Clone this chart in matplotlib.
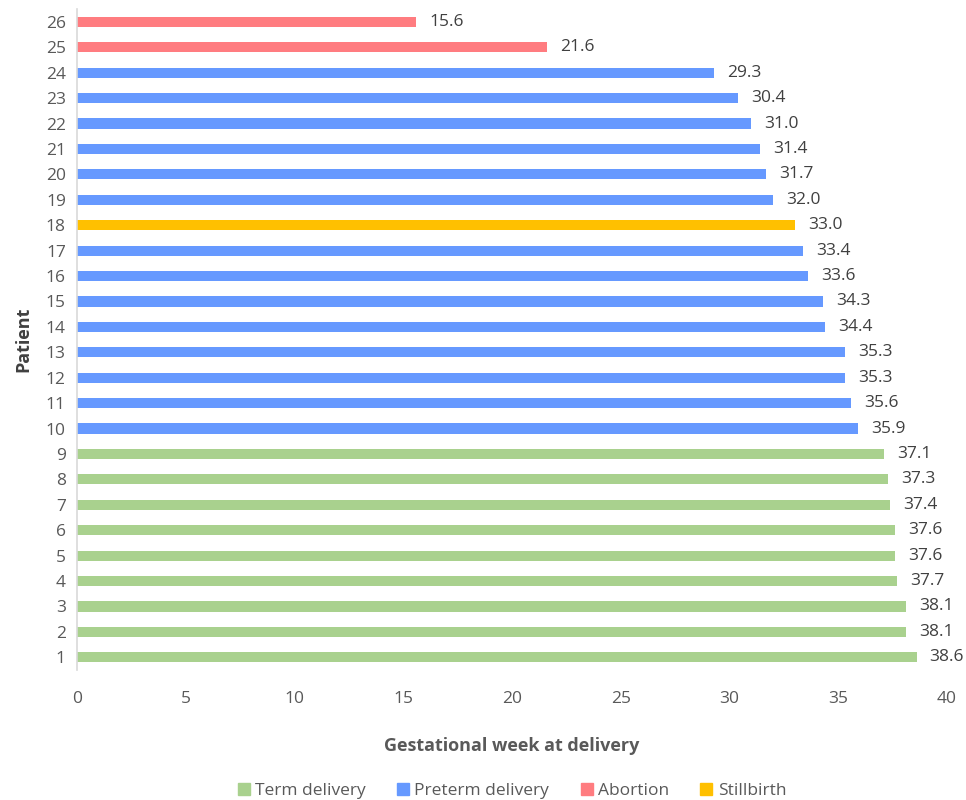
import matplotlib.pyplot as plt
from matplotlib.patches import Patch

plt.rcParams['font.family'] = ['Open Sans', 'DejaVu Sans']

# Data
patients = list(range(1, 27))
weeks = [38.6, 38.1, 38.1, 37.7, 37.6, 37.6, 37.4, 37.3, 37.1,
         35.9, 35.6, 35.3, 35.3, 34.4, 34.3, 33.6, 33.4, 33.0,
         32.0, 31.7, 31.4, 31.0, 30.4, 29.3, 21.6, 15.6]
outcome = (["Term delivery"] * 9 + ["Preterm delivery"] * 8 + ["Stillbirth"]
           + ["Preterm delivery"] * 6 + ["Abortion"] * 2)

colors = {"Term delivery": "#A9D18E",
          "Preterm delivery": "#6699FF",
          "Abortion": "#FF7C80",
          "Stillbirth": "#FFC000"}

fig = plt.figure(figsize=(9.66, 8), dpi=100)
ax = fig.add_axes([0.0797, 0.1625, 0.9006, 0.826])

ax.barh(patients, weeks, height=0.4,
        color=[colors[o] for o in outcome])

for p, w in zip(patients, weeks):
    ax.text(w + 0.6, p, f"{w:.1f}", va="center", ha="left",
            fontsize=12.5, color="#404040")

ax.set_xlim(0, 40)
ax.set_ylim(0.5, 26.5)
ax.set_xticks(range(0, 41, 5))
ax.set_yticks(patients)
ax.tick_params(axis="both", length=0, labelsize=12.5, colors="#595959")
ax.tick_params(axis="x", pad=15)
ax.tick_params(axis="y", pad=8)

for s in ["top", "right", "bottom"]:
    ax.spines[s].set_visible(False)
ax.spines["left"].set_color("#D9D9D9")
ax.spines["left"].set_linewidth(1.2)

ax.set_xlabel("Gestational week at delivery", fontsize=13, fontweight="bold",
              color="#595959", labelpad=22)
ax.set_ylabel("Patient", fontsize=13, fontweight="bold", color="#404040",
              labelpad=10)

handles = [Patch(color=colors[k]) for k in colors]
fig.legend(handles, list(colors.keys()), loc="lower center",
           bbox_to_anchor=(0.53, -0.018), ncol=4, frameon=False,
           fontsize=12.5, handlelength=0.7, handleheight=0.7,
           columnspacing=1.8, handletextpad=0.3, labelcolor="#595959")

fig.savefig("out.png", dpi=100)
